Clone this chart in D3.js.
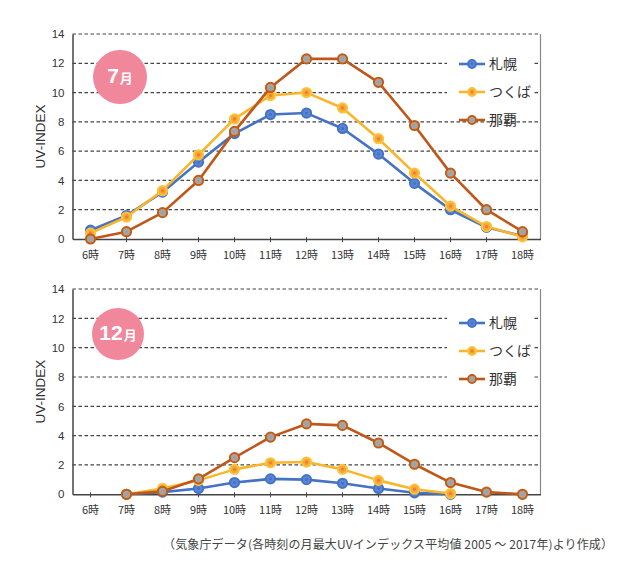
<!DOCTYPE html>
<html><head><meta charset="utf-8">
<script src="https://cdn.jsdelivr.net/npm/d3@7"></script>
<style>body{margin:0;background:#fff}svg{display:block}text{font-family:"Noto Sans CJK JP","Noto Sans",sans-serif}</style>
</head><body><svg id="c" width="624" height="562"></svg>
<script>
const hours = ["6時","7時","8時","9時","10時","11時","12時","13時","14時","15時","16時","17時","18時"];
const yTicks = [0,2,4,6,8,10,12,14];
const seriesNames = ["札幌","つくば","那覇"];
// July
const julSapporo = [0.6,1.6,3.2,5.25,7.2,8.5,8.6,7.55,5.8,3.8,2.0,0.8,0.2];
const julTsukuba = [0.4,1.5,3.3,5.75,8.2,9.8,10.0,8.95,6.85,4.5,2.25,0.85,0.15];
const julNaha    = [0.0,0.5,1.8,4.0,7.35,10.35,12.3,12.3,10.7,7.75,4.5,2.0,0.5];
// December
const decSapporo = [null,0.0,0.15,0.4,0.8,1.05,1.0,0.75,0.4,0.1,0.0,null,null];
const decTsukuba = [null,0.0,0.4,0.95,1.7,2.15,2.2,1.7,0.95,0.35,0.05,null,null];
const decNaha    = [null,0.0,0.2,1.05,2.5,3.9,4.8,4.7,3.5,2.05,0.8,0.15,0.0];
const charts = [
  {label:"7", top:34, bottom:239, data:[julSapporo,julTsukuba,julNaha], badge:[120,77,27], legendY:64},
  {label:"12", top:289, bottom:494.3, data:[decSapporo,decTsukuba,decNaha], badge:[118,334,26], legendY:323}
];
const styles = [
  {line:"#4472C4", ring:"#4472C4", fill:"#5B86D6", dot:"#4472C4"},
  {line:"#F9B62A", ring:"#FCC33A", fill:"#F7A83A", dot:"#EE7D31"},
  {line:"#C0571A", ring:"#C55A11", fill:"#A5A5A5", dot:"#A0A0A0"}
];
const svg = d3.select("#c");
svg.append("rect").attr("width",624).attr("height",562).attr("fill","#fff");
const left = 72.5, right = 540.5;
const x = d3.scaleBand().domain(hours).range([left,right]);
charts.forEach(ch=>{
  const g = svg.append("g");
  const y = d3.scaleLinear().domain([0,14]).range([ch.bottom, ch.top]);
  g.selectAll(".grid").data(yTicks.filter(d=>d>0)).join("line")
    .attr("x1",left).attr("x2",right).attr("y1",d=>y(d)).attr("y2",d=>y(d))
    .attr("stroke","#444").attr("stroke-width",1.2).attr("stroke-dasharray","3.5,2.5");
  g.append("line").attr("x1",right).attr("x2",right).attr("y1",ch.top).attr("y2",ch.bottom)
    .attr("stroke","#888").attr("stroke-width",1.2);
  const ya = g.append("g").attr("transform",`translate(${left},0)`)
    .call(d3.axisLeft(y).tickValues(yTicks).tickSize(0).tickPadding(8));
  ya.select(".domain").attr("stroke","#444").attr("stroke-width",1.5);
  ya.selectAll("text").attr("font-size",11.5).attr("fill","#333").style("font-family","'Liberation Sans',Arial,sans-serif");
  const xa = g.append("g").attr("transform",`translate(0,${ch.bottom})`)
    .call(d3.axisBottom(x).tickSizeInner(4).tickSizeOuter(0).tickPadding(6));
  xa.select(".domain").attr("stroke","#444").attr("stroke-width",1.5);
  xa.selectAll(".tick line").attr("stroke","#444").attr("y1",-2).attr("y2",3);
  xa.selectAll("text").attr("font-size",11).attr("fill","#333").attr("dy","0.9em");
  g.append("text").attr("transform",`translate(45,${(ch.top+ch.bottom)/2}) rotate(-90)`)
    .attr("text-anchor","middle").attr("font-size",13.5).attr("fill","#333")
    .style("font-family","'Liberation Sans',Arial,sans-serif").text("UV-INDEX");
  g.append("rect").attr("x",447).attr("y",ch.legendY-14).attr("width",87).attr("height",70).attr("fill","#fff");
  const xc = h=>x(h)+x.bandwidth()/2;
  ch.data.forEach((vals,i)=>{
    const st = styles[i];
    const pts = vals.map((v,k)=>({h:hours[k],v})).filter(d=>d.v!==null);
    g.append("path").datum(pts)
      .attr("d",d3.line().x(d=>xc(d.h)).y(d=>y(d.v)))
      .attr("fill","none").attr("stroke",st.line).attr("stroke-width",2.6).attr("stroke-linejoin","round");
    const m = g.selectAll(null).data(pts).join("g").attr("transform",d=>`translate(${xc(d.h)},${y(d.v)})`);
    m.append("circle").attr("r",4.6).attr("fill",st.fill).attr("stroke",st.ring).attr("stroke-width",2);
    m.append("circle").attr("r",1.6).attr("fill",st.dot);
    const ly = ch.legendY + i*28;
    g.append("line").attr("x1",459).attr("x2",485).attr("y1",ly).attr("y2",ly).attr("stroke",st.line).attr("stroke-width",2.6);
    g.append("circle").attr("cx",472).attr("cy",ly).attr("r",4).attr("fill",st.fill).attr("stroke",st.ring).attr("stroke-width",1.8);
    g.append("circle").attr("cx",472).attr("cy",ly).attr("r",1.4).attr("fill",st.dot);
    g.append("text").attr("x",489).attr("y",ly).attr("dy","0.36em").attr("font-size",14).attr("fill","#333").text(seriesNames[i]);
  });
  const [bx,by,br] = ch.badge;
  g.append("circle").attr("cx",bx).attr("cy",by).attr("r",br).attr("fill","#F0879B");
  const t = g.append("text").attr("x",bx).attr("y",by).attr("dy","0.36em").attr("text-anchor","middle")
    .attr("fill","#fff").attr("font-weight","bold");
  t.append("tspan").attr("font-size",21).style("font-family","'Liberation Sans',Arial,sans-serif").text(ch.label);
  t.append("tspan").attr("font-size",13).attr("dx",1).text("月");
});
svg.append("text").attr("x",163).attr("y",549).attr("font-size",12).attr("fill","#444")
  .attr("textLength",450).attr("lengthAdjust","spacing")
  .text("（気象庁データ(各時刻の月最大UVインデックス平均値 2005 ～ 2017年)より作成）");
</script></body></html>
